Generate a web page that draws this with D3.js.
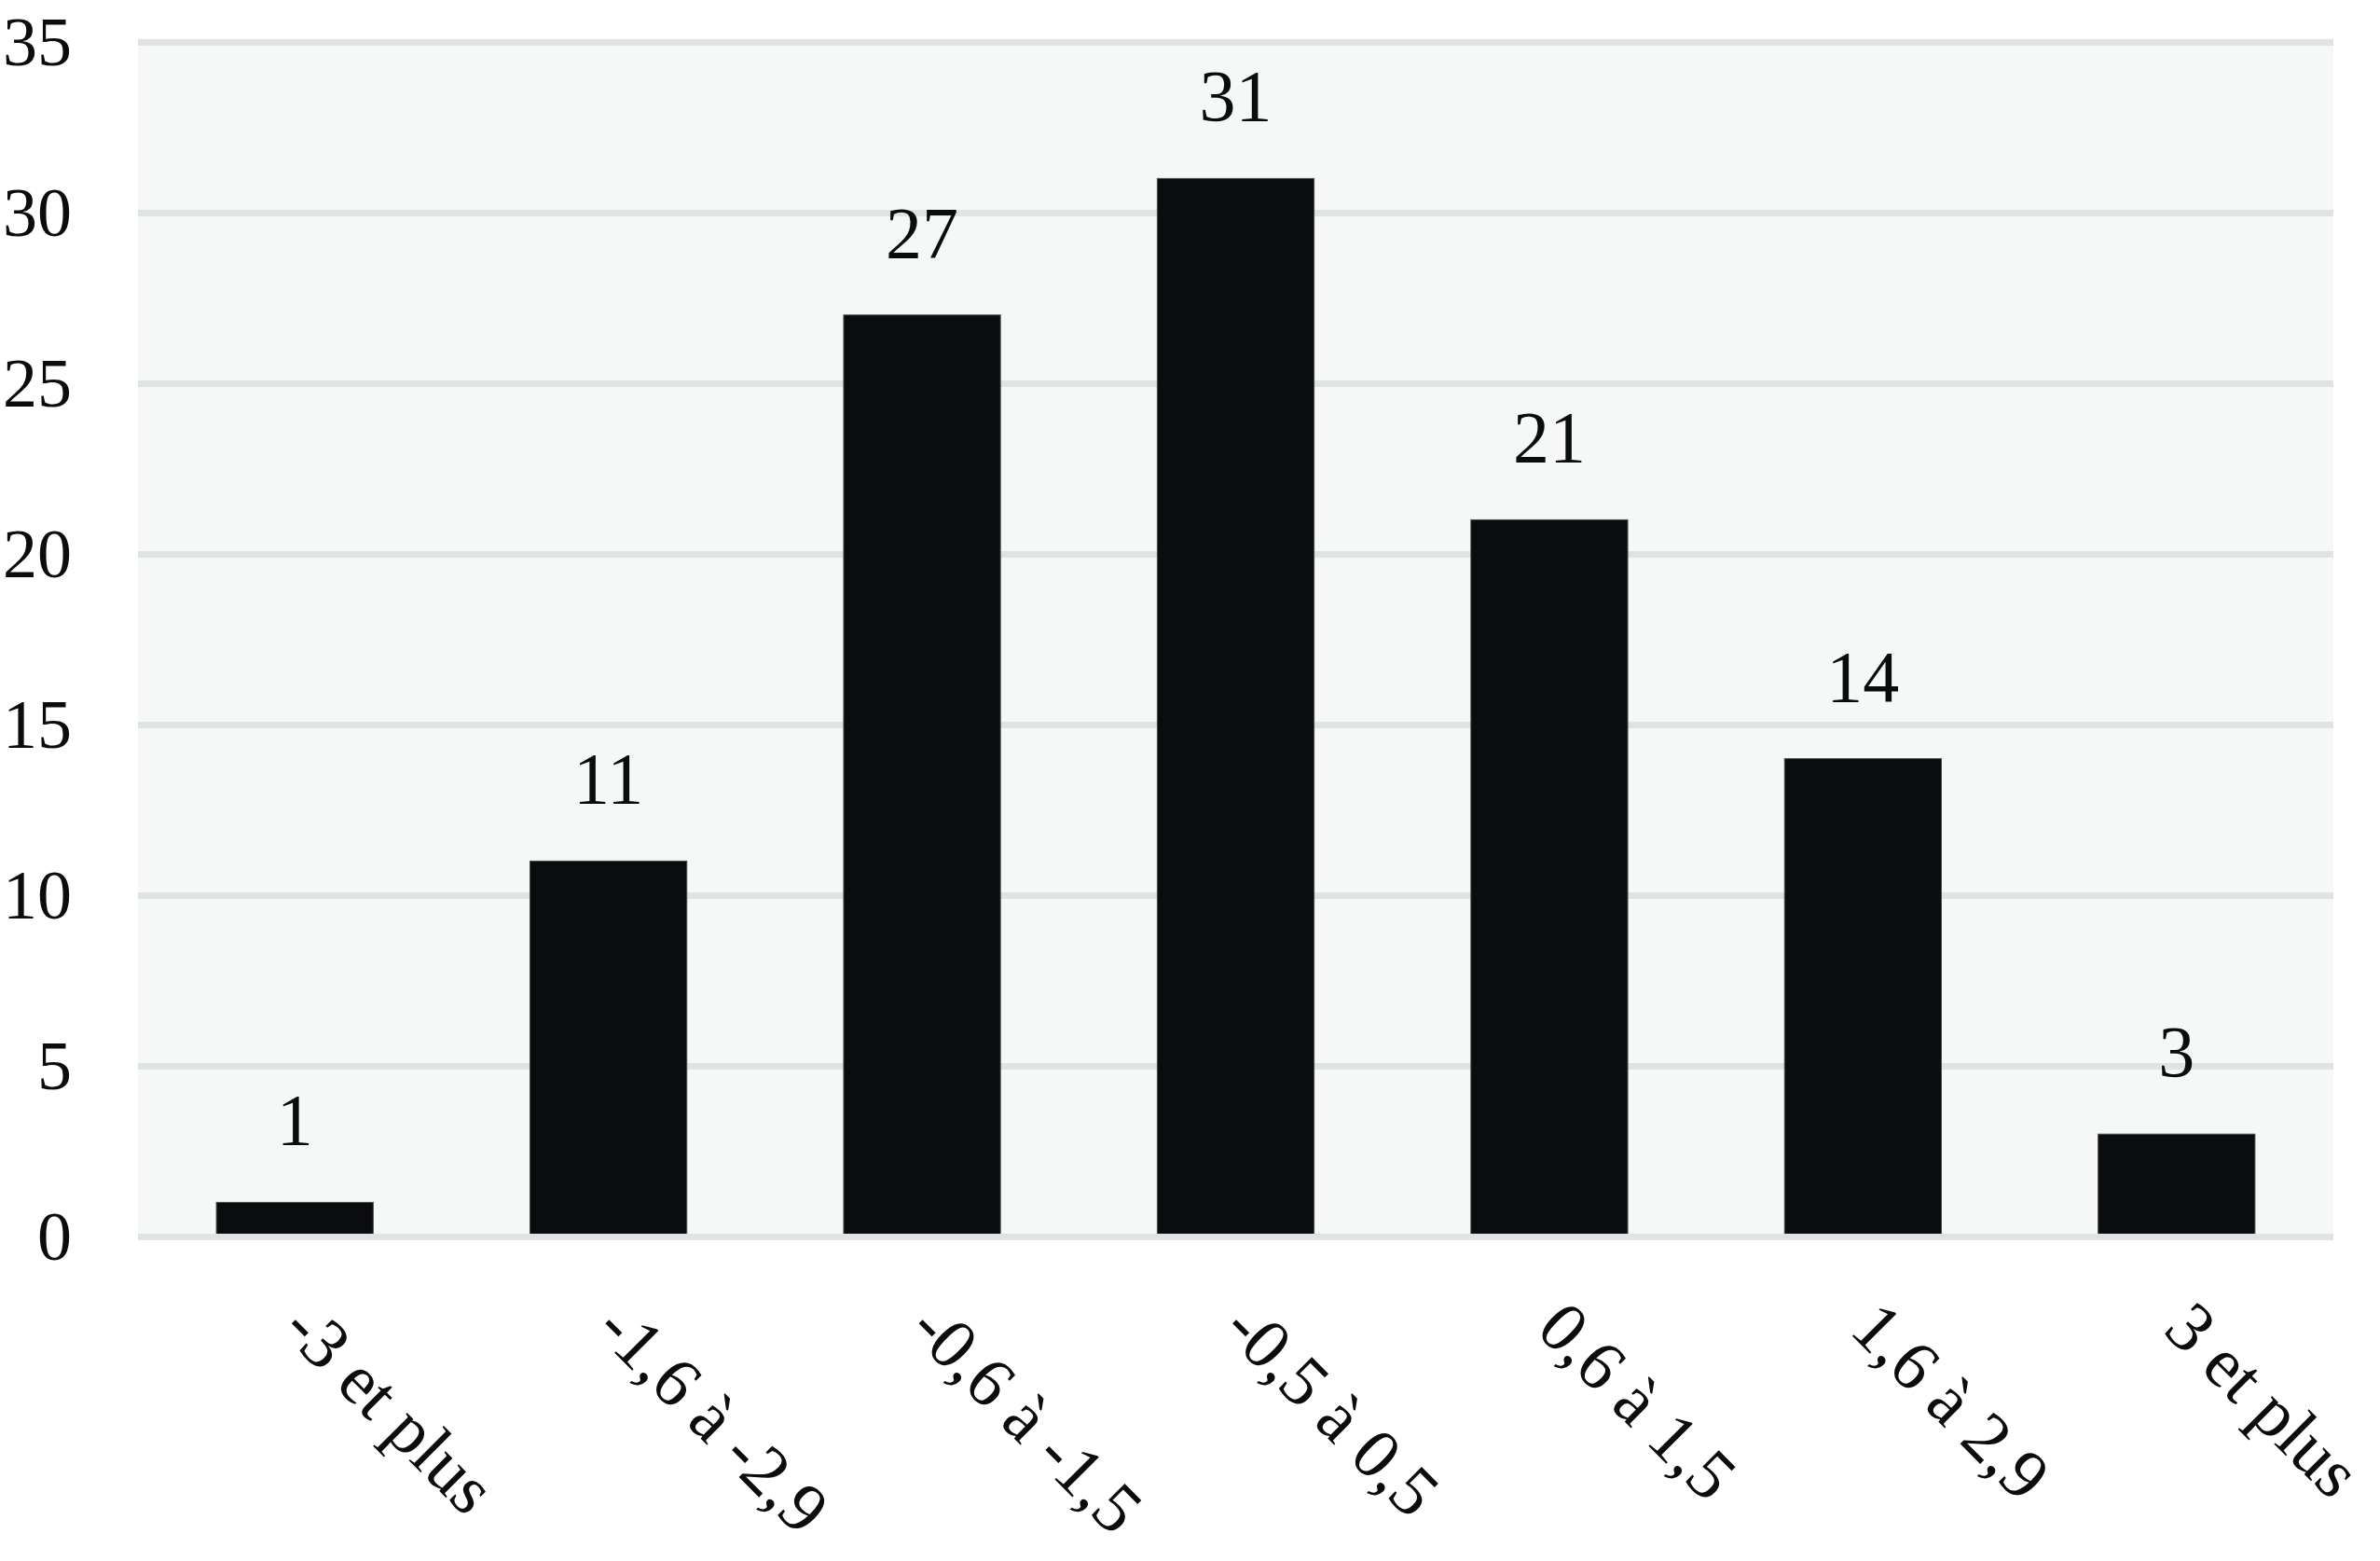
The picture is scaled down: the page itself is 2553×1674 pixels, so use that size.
<!DOCTYPE html>
<html>
<head>
<meta charset="utf-8">
<script src="https://cdn.jsdelivr.net/npm/d3@7"></script>
<style>
  html, body { margin: 0; padding: 0; background: #ffffff; }
  svg { display: block; }
  text { font-family: "Liberation Serif", "Times New Roman", serif; fill: #0b0c0d; }
</style>
</head>
<body>
<svg id="chart" width="2553" height="1674"></svg>
<script>
const categories = ["-3 et plus", "-1,6 à -2,9", "-0,6 à -1,5", "-0,5 à 0,5", "0,6 à 1,5", "1,6 à 2,9", "3 et plus"];
const values = [1, 11, 27, 31, 21, 14, 3];
const yTicks = [0, 5, 10, 15, 20, 25, 30, 35];

(function () {
const svg = d3.select("#chart");
const plotLeft = 148, plotRight = 2503, plotTop = 45, plotBottom = 1326;
const fontSize = 78;

const x = d3.scaleBand().domain(categories).range([plotLeft, plotRight]).paddingInner(0.5).paddingOuter(0.25);
const y = d3.scaleLinear().domain([0, 35]).range([plotBottom, plotTop]);

// plot background
svg.append("rect")
  .attr("x", plotLeft).attr("y", y(35) - 3.5)
  .attr("width", plotRight - plotLeft).attr("height", y(0) - y(35) + 7)
  .attr("fill", "#f6f7f7");

// gridlines (except 0)
const grid = svg.append("g").attr("transform", `translate(${plotLeft},0)`)
  .call(d3.axisLeft(y).tickValues(yTicks.filter(d => d !== 0)).tickSize(-(plotRight - plotLeft)).tickFormat(""));
grid.select(".domain").remove();
grid.selectAll(".tick line").attr("stroke", "#dfe3e3").attr("stroke-width", 7);

// bars
svg.append("g").selectAll("rect").data(values).join("rect")
  .attr("x", (d, i) => x(categories[i]))
  .attr("y", d => y(d))
  .attr("width", x.bandwidth())
  .attr("height", d => y(0) - y(d))
  .attr("fill", "#0b0c0d")
  .attr("stroke", "#4a4c4e")
  .attr("stroke-width", 1);

// zero line on top
const zero = svg.append("g").attr("transform", `translate(${plotLeft},0)`)
  .call(d3.axisLeft(y).tickValues([0]).tickSize(-(plotRight - plotLeft)).tickFormat(""));
zero.select(".domain").remove();
zero.selectAll(".tick line").attr("stroke", "#dfe3e3").attr("stroke-width", 7);

// y tick labels
const yAxis = svg.append("g").attr("transform", `translate(77,0)`)
  .call(d3.axisLeft(y).tickValues(yTicks).tickSize(0).tickPadding(0).tickFormat(d3.format("d")));
yAxis.select(".domain").remove();
yAxis.selectAll("text")
  .attr("font-size", 74)
  .attr("font-family", "Liberation Serif, Times New Roman, serif")
  .attr("fill", "#0b0c0d")
  .attr("dy", "0.33em");

// data labels
svg.append("g").selectAll("text").data(values).join("text")
  .attr("x", (d, i) => x(categories[i]) + x.bandwidth() / 2)
  .attr("y", d => y(d) - 62)
  .attr("text-anchor", "middle")
  .attr("font-size", fontSize)
  .text(d => d);

// category labels, rotated 45°
svg.append("g").selectAll("text").data(categories).join("text")
  .attr("transform", d => `translate(${x(d) + x.bandwidth() / 2 - 16},1428) rotate(45)`)
  .attr("text-anchor", "start")
  .attr("font-size", 76)
  .text(d => d);
})();
</script>
</body>
</html>
